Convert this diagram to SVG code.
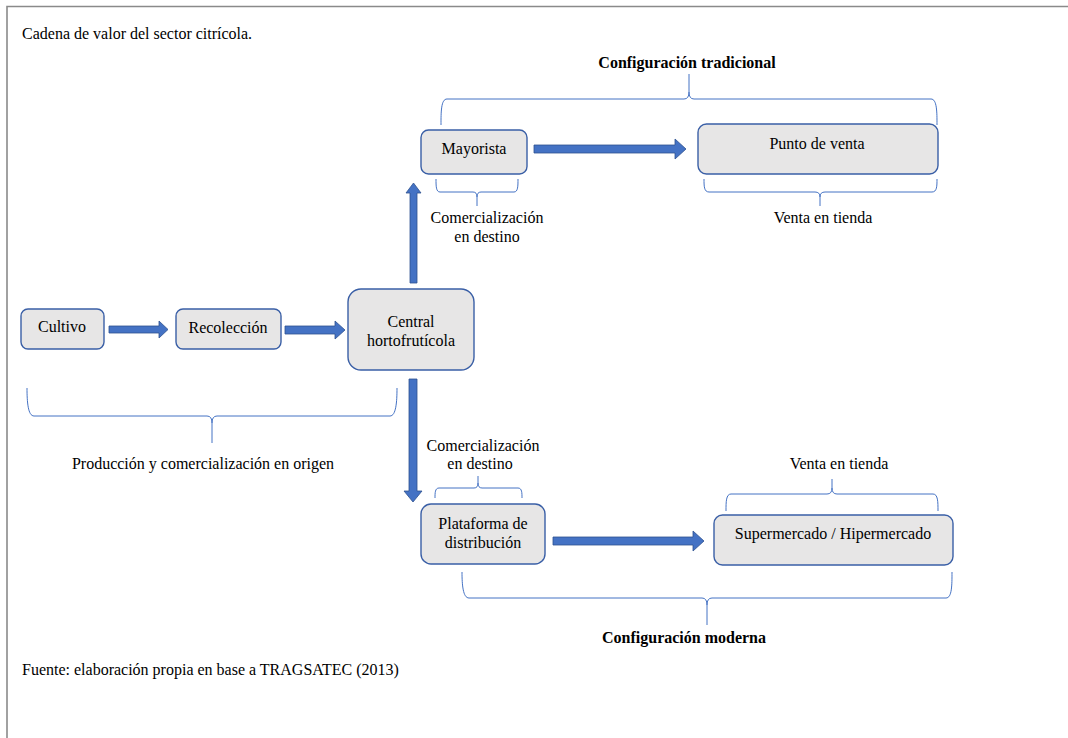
<svg xmlns="http://www.w3.org/2000/svg" width="1068" height="738" viewBox="0 0 1068 738">
<style>
text{font-family:"Liberation Serif","Times New Roman",serif;font-size:16px;fill:#000}
.c{text-anchor:middle}
.b{font-weight:bold}
.box{fill:#e7e6e6;stroke:#3a5fa6;stroke-width:1.4}
.arr{fill:#4472c4;stroke:#2f528f;stroke-width:0.8}
.br{fill:none;stroke:#4472c4;stroke-width:1}
</style>
<rect x="0" y="0" width="1068" height="738" fill="#fff"/>
<path d="M7 738 V6.5 H1068" fill="none" stroke="#8a8a8a" stroke-width="1.6"/>
<text x="22" y="39">Cadena de valor del sector citrícola.</text>
<text x="22" y="675">Fuente: elaboración propia en base a TRAGSATEC (2013)</text>

<g id="node-cultivo"><rect class="box" x="21" y="309" width="83" height="40" rx="7"/><text class="c" x="62" y="332">Cultivo</text></g>
<g id="node-recoleccion"><rect class="box" x="176" y="309" width="105" height="40" rx="7"/><text class="c" x="228" y="333">Recolección</text></g>
<g id="node-central"><rect class="box" x="348" y="289" width="126" height="81" rx="13"/><text class="c" x="411" y="327">Central</text><text class="c" x="411" y="346">hortofrutícola</text></g>
<g id="node-mayorista"><rect class="box" x="421" y="130" width="106" height="44" rx="7.5"/><text class="c" x="474" y="154">Mayorista</text></g>
<g id="node-punto"><rect class="box" x="698" y="124" width="240" height="50" rx="8.5"/><text class="c" x="817" y="149">Punto de venta</text></g>
<g id="node-plataforma"><rect class="box" x="421" y="504" width="124" height="60" rx="10"/><text class="c" x="483" y="529">Plataforma de</text><text class="c" x="483" y="548">distribución</text></g>
<g id="node-super"><rect class="box" x="714" y="515" width="239" height="50" rx="8.5"/><text class="c" x="833" y="539">Supermercado / Hipermercado</text></g>

<g id="connectors">
<polygon class="arr" points="109,326 159,326 159,321 168,329.5 159,338 159,333 109,333"/>
<polygon class="arr" points="285,326 335,326 335,321 345,330 335,339 335,334 285,334"/>
<polygon class="arr" points="410,283 410,193 406,193 413.5,183 421,193 417,193 417,283"/>
<polygon class="arr" points="409,379 409,491 404,491 413,502 422,491 417,491 417,379"/>
<polygon class="arr" points="534,145 675,145 675,139 686,149 675,159 675,153 534,153"/>
<polygon class="arr" points="553,537 693,537 693,531 704,541 693,551 693,545 553,545"/>
</g>

<g id="brace-tradicional">
<path class="br" d="M441 125 C441 112 441 99 447 99 L684 99 Q689 99 689 92 L689 74 M689 92 Q689 99 694 99 L931 99 C937 99 937 112 937 125"/>
<text class="c b" x="687" y="68">Configuración tradicional</text>
</g>
<g id="brace-mayorista">
<path class="br" d="M436 179 C436 186 436 192 440 192 L473 192 Q477 192 477 197 L477 206 M477 197 Q477 192 481 192 L514 192 C518 192 518 186 518 179"/>
<text class="c" x="487" y="223">Comercialización</text>
<text class="c" x="487" y="242">en destino</text>
</g>
<g id="brace-punto">
<path class="br" d="M704 179 C704 186 704 192 709 192 L815 192 Q820 192 820 197 L820 206 M820 197 Q820 192 825 192 L932 192 C937 192 937 186 937 179"/>
<text class="c" x="823" y="223">Venta en tienda</text>
</g>
<g id="brace-origen">
<path class="br" d="M27 388 C27 402 28 416 34 416 L207 416 Q212 416 212 423 L212 443 M212 423 Q212 416 217 416 L390 416 C396 416 397 402 397 388"/>
<text class="c" x="203" y="469">Producción y comercialización en origen</text>
</g>
<g id="brace-plataforma">
<text class="c" x="483" y="451">Comercialización</text>
<text class="c" x="480" y="469">en destino</text>
<path class="br" d="M435 498 C435 493 435 488 439 488 L474 488 Q478 488 478 483 L478 476 M478 483 Q478 488 482 488 L518 488 C522 488 522 493 522 498"/>
</g>
<g id="brace-super">
<text class="c" x="839" y="469">Venta en tienda</text>
<path class="br" d="M726 511 C726 502 726 494 731 494 L827 494 Q832 494 832 488 L832 479 M832 488 Q832 494 837 494 L933 494 C938 494 938 502 938 511"/>
</g>
<g id="brace-moderna">
<path class="br" d="M462 572 C462 585 463 598 469 598 L702 598 Q707 598 707 605 L707 625 M707 605 Q707 598 712 598 L946 598 C952 598 952 585 952 572"/>
<text class="c b" x="684" y="643">Configuración moderna</text>
</g>
</svg>
